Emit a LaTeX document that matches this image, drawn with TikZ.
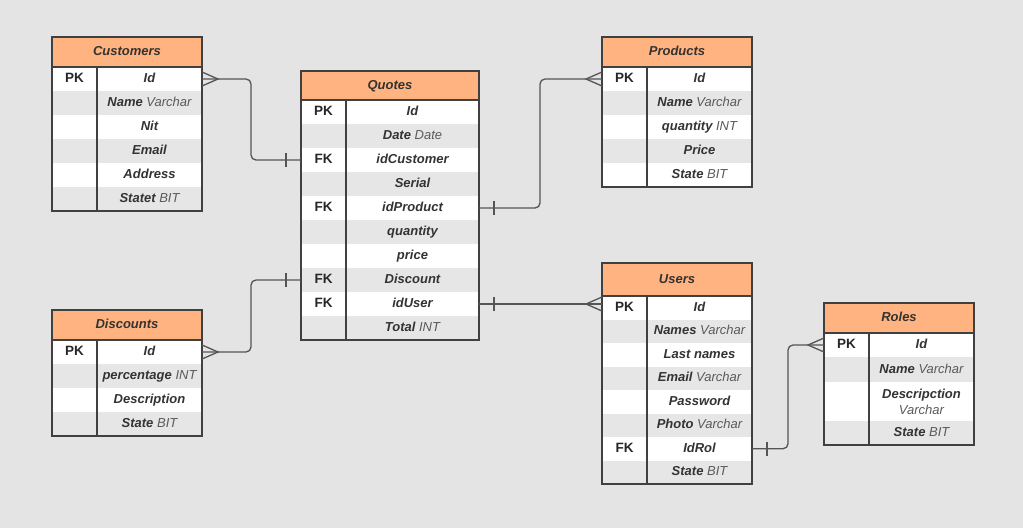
\documentclass[tikz,border=0pt]{standalone}
\usepackage{fontspec}
\setmainfont{Liberation Sans}
\usetikzlibrary{calc}
\definecolor{bgc}{HTML}{E4E4E4}
\definecolor{hdrc}{HTML}{FFB380}
\definecolor{rowg}{HTML}{E6E6E6}
\definecolor{bordc}{HTML}{404040}
\definecolor{txtc}{HTML}{333333}
\definecolor{typc}{HTML}{5A5A5A}
\definecolor{connc}{HTML}{555555}
\newcommand\fldb[1]{{\bfseries\itshape\color{txtc}#1}}
\newcommand\fldt[1]{{\itshape\color{typc}#1}}
% name, x, y, width, title, header height, row height, n rows, rows
\newcommand\ertab[9]{%
  \foreach \k/\f [count=\i, evaluate=\i as \r using {int(mod(\i,2))}] in {#9} {
    \pgfmathsetmacro\yy{#3+#6+#7*(\i-1)}
    \node[cell, row\r, minimum width=45pt, minimum height=#7pt, font=\keyfont] (#1-k\i) at (#2,\yy) {\k};
    \node[cell, row\r, minimum width=#4pt-45pt, minimum height=#7pt] (#1-f\i) at (#2+45,\yy) {\f};
  }
  \node[hdr, minimum width=#4pt, minimum height=#6pt] (#1-h) at (#2,#3) {#5};
  \draw[frame] (#1-h.north west) rectangle (#1-f#8.south east);
  \draw[frame] (#1-k1.north east) -- (#1-k#8.south east);
}
\newcommand\keyfont{\bfseries\fontsize{13.5}{15}\selectfont\color{black!85}}
\newcommand\crowR[1]{\draw[conn] ($(#1)+(0,-7)$) -- ($(#1)+(16,0)$) -- ($(#1)+(0,7)$);}
\newcommand\crowL[1]{\draw[conn] ($(#1)+(0,-7)$) -- ($(#1)+(-16,0)$) -- ($(#1)+(0,7)$);}
\newcommand\barat[2]{\draw[conn] ($(#1)+(#2,-7)$) -- ($(#1)+(#2,7)$);}
\begin{document}
\begin{tikzpicture}[x=1pt,y=-1pt,
  cell/.style={anchor=north west, inner sep=0pt, outer sep=0pt, font=\fontsize{13}{15}\selectfont, align=center, text height=9.6pt, text depth=2.6pt},
  row1/.style={fill=white},
  row0/.style={fill=rowg},
  hdr/.style={anchor=north west, inner sep=0pt, outer sep=0pt, draw=bordc, line width=1.3pt, fill=hdrc, text=txtc, font=\bfseries\itshape\fontsize{13}{15}\selectfont, text height=9.6pt, text depth=2.6pt},
  frame/.style={draw=bordc, line width=1.3pt},
  conn/.style={draw=connc, line width=1.3pt}]
\useasboundingbox (0,0) rectangle (1023,528);
\fill[bgc] (0,0) rectangle (1023,528);

\ertab{cust}{52}{37}{150}{Customers}{30}{24}{6}{%
  {PK}/{\fldb{Id}},
  {}/{\fldb{Name} \fldt{Varchar}},
  {}/{\fldb{Nit}},
  {}/{\fldb{Email}},
  {}/{\fldb{Address}},
  {}/{\fldb{Statet} \fldt{BIT}}}

\ertab{quo}{301}{71}{178}{Quotes}{29}{24}{10}{%
  {PK}/{\fldb{Id}},
  {}/{\fldb{Date} \fldt{Date}},
  {FK}/{\fldb{idCustomer}},
  {}/{\fldb{Serial}},
  {FK}/{\fldb{idProduct}},
  {}/{\fldb{quantity}},
  {}/{\fldb{price}},
  {FK}/{\fldb{Discount}},
  {FK}/{\fldb{idUser}},
  {}/{\fldb{Total} \fldt{INT}}}

\ertab{prod}{602}{37}{150}{Products}{30}{24}{5}{%
  {PK}/{\fldb{Id}},
  {}/{\fldb{Name} \fldt{Varchar}},
  {}/{\fldb{quantity} \fldt{INT}},
  {}/{\fldb{Price}},
  {}/{\fldb{State} \fldt{BIT}}}

\ertab{users}{602}{263}{150}{Users}{33}{23.5}{8}{%
  {PK}/{\fldb{Id}},
  {}/{\fldb{Names} \fldt{Varchar}},
  {}/{\fldb{Last names}},
  {}/{\fldb{Email} \fldt{Varchar}},
  {}/{\fldb{Password}},
  {}/{\fldb{Photo} \fldt{Varchar}},
  {FK}/{\fldb{IdRol}},
  {}/{\fldb{State} \fldt{BIT}}}

\ertab{disc}{52}{310}{150}{Discounts}{30}{24}{4}{%
  {PK}/{\fldb{Id}},
  {}/{\fldb{percentage} \fldt{INT}},
  {}/{\fldb{Description}},
  {}/{\fldb{State} \fldt{BIT}}}

% Roles (one taller row)
\node[cell, row1, minimum width=45pt, minimum height=24pt, font=\keyfont] (roles-k1) at (824,333) {PK};
\node[cell, row1, minimum width=105pt, minimum height=24pt] (roles-f1) at (869,333) {\fldb{Id}};
\node[cell, row0, minimum width=45pt, minimum height=25pt] (roles-k2) at (824,357) {};
\node[cell, row0, minimum width=105pt, minimum height=25pt] (roles-f2) at (869,357) {\fldb{Name} \fldt{Varchar}};
\node[cell, row1, minimum width=45pt, minimum height=39pt] (roles-k3) at (824,382) {};
\node[cell, row1, minimum width=105pt, minimum height=39pt, text height=, text depth=, font=\fontsize{13}{16}\selectfont] (roles-f3) at (869,382) {\fldb{Descripction}\\\fldt{Varchar}};
\node[cell, row0, minimum width=45pt, minimum height=24pt] (roles-k4) at (824,421) {};
\node[cell, row0, minimum width=105pt, minimum height=24pt] (roles-f4) at (869,421) {\fldb{State} \fldt{BIT}};
\node[hdr, minimum width=150pt, minimum height=30pt] (roles-h) at (824,303) {Roles};
\draw[frame] (roles-h.north west) rectangle (roles-f4.south east);
\draw[frame] (roles-k1.north east) -- (roles-k4.south east);

% connectors
\draw[conn, rounded corners=5pt] (cust-f1.east) -- ++(49,0) |- (quo-k3.west);
\crowR{cust-f1.east}
\barat{quo-k3.west}{-15}

\draw[conn, rounded corners=5pt] (disc-f1.east) -- ++(49,0) |- (quo-k8.west);
\crowR{disc-f1.east}
\barat{quo-k8.west}{-15}

\draw[conn, rounded corners=5pt] (quo-f5.east) -- ++(61,0) |- (prod-k1.west);
\barat{quo-f5.east}{15}
\crowL{prod-k1.west}

\coordinate (uin) at (quo-f9.east -| users-k1.west);
\draw[conn] (quo-f9.east) -- (uin);
\barat{quo-f9.east}{15}
\crowL{uin}

\draw[conn, rounded corners=5pt] (users-f7.east) -- ++(36,0) |- (roles-k1.west);
\barat{users-f7.east}{15}
\crowL{roles-k1.west}
\end{tikzpicture}
\end{document}
